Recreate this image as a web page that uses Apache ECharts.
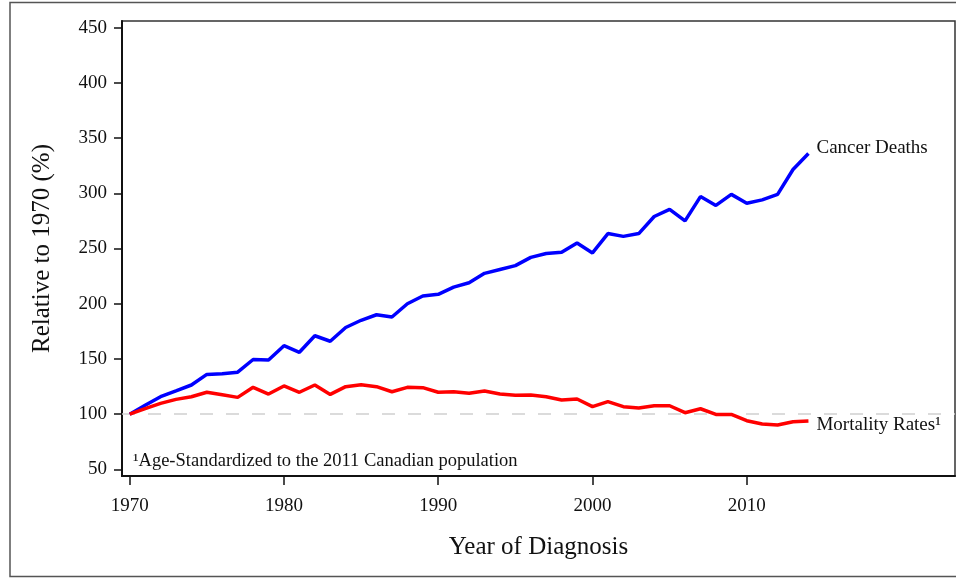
<!DOCTYPE html>
<html>
<head>
<meta charset="utf-8">
<script src="https://cdn.jsdelivr.net/npm/echarts@6/dist/echarts.min.js"></script>
<style>
  html, body { margin: 0; padding: 0; background: #fff; }
  #chart { width: 956px; height: 578px; }
</style>
</head>
<body>
<div id="chart"></div>
<script>
const years = [1970,1971,1972,1973,1974,1975,1976,1977,1978,1979,
               1980,1981,1982,1983,1984,1985,1986,1987,1988,1989,
               1990,1991,1992,1993,1994,1995,1996,1997,1998,1999,
               2000,2001,2002,2003,2004,2005,2006,2007,2008,2009,
               2010,2011,2012,2013,2014];
const cancerDeaths = [100,108,115.8,121,126.4,136,136.5,138,149.5,149,
                      162,156,171,166,178.5,185,190,188,200,207,
                      208.5,215,219,227.5,231,234.5,242,245.5,246.5,255,
                      246,263.5,261,263.5,279,285.5,275,297,289,299,
                      291,294,299,321.5,336];
const mortalityRates = [100,105,109.8,113.4,115.8,119.8,117.5,115.2,124.3,118.2,
                        125.5,119.8,126.4,117.9,124.9,126.7,124.9,120.3,124.3,124,
                        119.8,120.3,118.9,121,118.2,117.1,117.3,115.8,112.8,113.7,
                        106.8,111.3,106.8,105.6,107.6,107.6,101.3,104.9,99.8,99.8,
                        94.1,91.1,90.2,93.2,93.8];
const xTicks = [1970,1980,1990,2000,2010];
const yTicks = [50,100,150,200,250,300,350,400,450];
const referenceLevel = 100;

const FONT = "'Liberation Serif', 'Times New Roman', serif";
const chart = echarts.init(document.getElementById('chart'));

chart.setOption({
  animation: false,
  backgroundColor: '#fff',
  grid: {
    left: 122, right: 1, top: 21, bottom: 102,
    show: true, borderColor: '#333', borderWidth: 1.5, backgroundColor: 'transparent'
  },
  graphic: [
    {
      type: 'rect', silent: true, z: -1,
      shape: { x: 10, y: 2.5, width: 960, height: 574 },
      style: { fill: 'none', stroke: '#555', lineWidth: 1.5 }
    },
    {
      type: 'text', left: 133, top: 452,
      style: {
        text: '\u00B9Age-Standardized to the 2011 Canadian population',
        font: '18.5px ' + FONT, fill: '#111'
      }
    }
  ],
  xAxis: {
    type: 'value', min: 1969.5, max: 2023.5,
    name: 'Year of Diagnosis', nameLocation: 'middle', nameGap: 59,
    nameTextStyle: { fontFamily: FONT, fontSize: 25, color: '#111' },
    axisLine: { show: true, lineStyle: { color: '#111', width: 2 } },
    axisTick: { show: true, length: 9, lineStyle: { color: '#111', width: 1.5 }, customValues: xTicks },
    axisLabel: { fontFamily: FONT, fontSize: 19, color: '#111', margin: 21, customValues: xTicks,
                 formatter: v => String(v) },
    splitLine: { show: false }
  },
  yAxis: {
    type: 'value', min: 44, max: 456,
    name: 'Relative to 1970 (%)', nameLocation: 'middle', nameGap: 67,
    nameTextStyle: { fontFamily: FONT, fontSize: 25, color: '#111' },
    axisLine: { show: true, lineStyle: { color: '#111', width: 2 } },
    axisTick: { show: true, length: 8, lineStyle: { color: '#111', width: 1.5 }, customValues: yTicks },
    axisLabel: { fontFamily: FONT, fontSize: 19, color: '#111', margin: 15, customValues: yTicks,
                 formatter: v => String(v) },
    splitLine: { show: false }
  },
  series: [
    {
      name: 'Cancer Deaths', type: 'line',
      data: years.map((y, i) => [y, cancerDeaths[i]]),
      showSymbol: false, symbol: 'none',
      lineStyle: { color: '#0000ff', width: 3.5 },
      itemStyle: { color: '#0000ff' },
      endLabel: {
        show: true, formatter: '{a}', distance: 8, offset: [0, -6],
        fontFamily: FONT, fontSize: 19, color: '#111'
      },
      z: 2
    },
    {
      name: 'Mortality Rates\u00B9', type: 'line',
      data: years.map((y, i) => [y, mortalityRates[i]]),
      showSymbol: false, symbol: 'none',
      lineStyle: { color: '#ff0000', width: 3.5 },
      itemStyle: { color: '#ff0000' },
      endLabel: {
        show: true, formatter: '{a}', distance: 8, offset: [0, 4],
        fontFamily: FONT, fontSize: 19, color: '#111'
      },
      markLine: {
        silent: true, symbol: 'none', label: { show: false },
        lineStyle: { color: '#cfcfcf', type: [13, 13], width: 1.5 },
        data: [{ yAxis: referenceLevel }],
        z: 1
      },
      z: 3
    }
  ]
});
</script>
</body>
</html>
